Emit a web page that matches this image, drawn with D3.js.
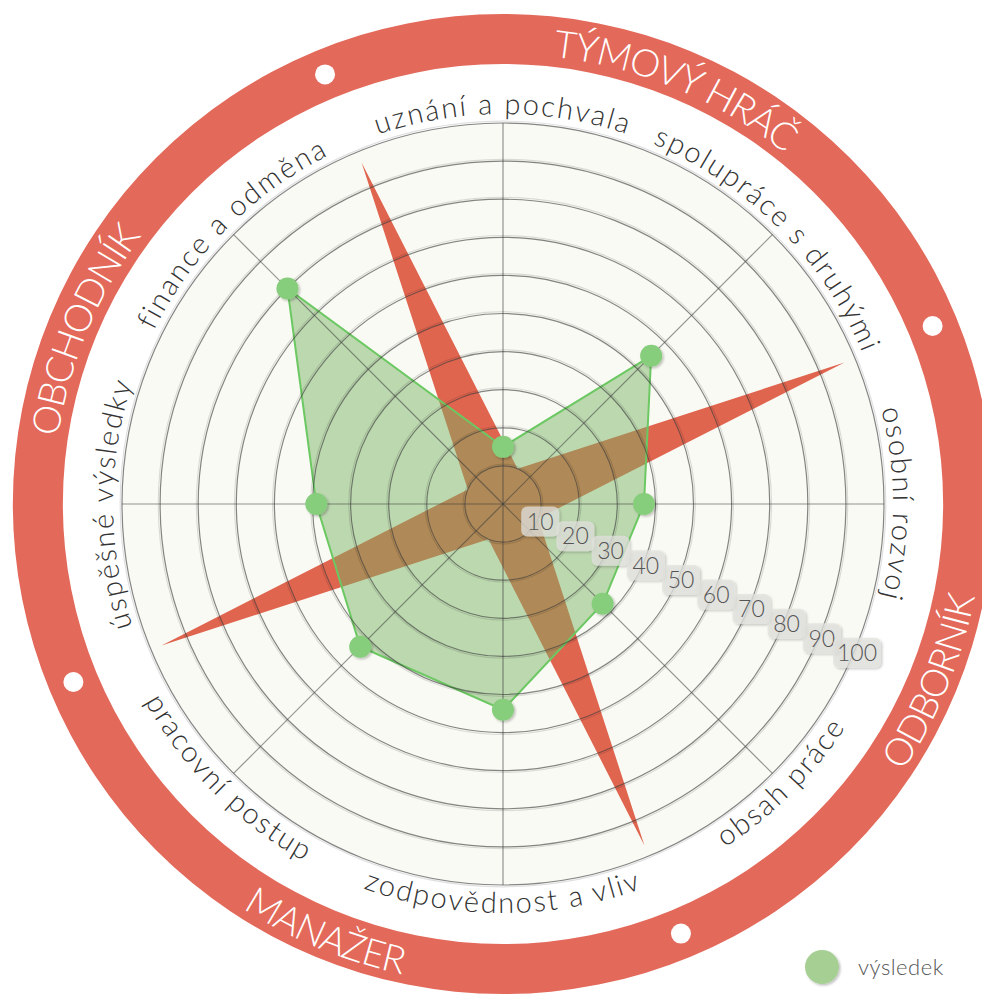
<!DOCTYPE html>
<html lang="cs">
<head>
  <meta charset="UTF-8">
  <title>Radar - výsledek</title>
  <script src="https://cdnjs.cloudflare.com/ajax/libs/d3/7.8.5/d3.min.js"></script>
  <style>
    html, body { margin: 0; padding: 0; background: #fff; }
    svg { display: block; }
    text { font-family: 'Lato', 'Open Sans', sans-serif; font-weight: 300; }
  </style>
</head>
<body>
<script>
  // chart values
  const categories = ["uznání a pochvala", "spolupráce s druhými", "osobní rozvoj", "obsah práce",
    "zodpovědnost a vliv", "pracovní postup", "úspěšné výsledky", "finance a odměna"];
  const results = [15, 55, 37, 37, 54, 53, 49, 80];

  // red star drawn behind the result
  const starAngles = [337.5, 22.5, 67.5, 112.5, 157.5, 202.5, 247.5, 292.5];
  const starValues = [97, 10, 97, 10, 97, 10, 97, 10];

  const ticks = [10, 20, 30, 40, 50, 60, 70, 80, 90, 100];

  const roles = ["TÝMOVÝ HRÁČ", "ODBORNÍK", "MANAŽER", "OBCHODNÍK"];
  const roleAngles = [22.5, 112.5, 202.5, 292.5];
  const dotAngles = [67.5, 157.5, 247.5, 337.5];

  const width = 982, height = 999;
  const cx = 503, cy = 504;
  const ringOuter = 490, ringInner = 440;

  const svg = d3.select("body").append("svg")
    .attr("width", width)
    .attr("height", height);

  const defs = svg.append("defs");
  const shadow = defs.append("filter").attr("id", "shadow")
    .attr("x", "-50%").attr("y", "-50%").attr("width", "200%").attr("height", "200%");
  shadow.append("feDropShadow")
    .attr("dx", 1.5).attr("dy", 1.5).attr("stdDeviation", 1.2)
    .attr("flood-color", "#000").attr("flood-opacity", 0.25);

  const r = d3.scaleLinear().domain([0, 100]).range([0, 381]);
  const angle = d3.scaleLinear().domain([0, categories.length]).range([0, 2 * Math.PI]);
  const rad = d => d * Math.PI / 180;

  const g = svg.append("g").attr("transform", `translate(${cx},${cy})`);

  // outer ring
  g.append("path")
    .attr("d", d3.arc()({ innerRadius: ringInner, outerRadius: ringOuter, startAngle: 0, endAngle: 2 * Math.PI }))
    .attr("fill", "#e3695a");

  // plot background
  g.append("circle").attr("r", r(100)).attr("fill", "#fafaf4");

  // red star
  const star = starAngles.map((a, i) => [rad(a), r(starValues[i])]);
  g.append("path")
    .attr("d", d3.lineRadial().curve(d3.curveLinearClosed)(star))
    .attr("fill", "#e0654f");

  // result area
  const pts = results.map((v, i) => [angle(i), r(v)]);
  g.append("path")
    .attr("d", d3.lineRadial().curve(d3.curveLinearClosed)(pts))
    .attr("fill", "rgba(118,178,98,0.47)")
    .attr("stroke", "#6cc862")
    .attr("stroke-width", 2);

  // grid circles with a faint shadow
  g.selectAll(".grid-shadow").data(ticks).join("circle")
    .attr("r", d => r(d) + 1.8)
    .attr("fill", "none")
    .attr("stroke", "rgba(0,0,0,0.12)")
    .attr("stroke-width", 1.2);
  g.selectAll(".grid").data(ticks).join("circle")
    .attr("r", d => r(d))
    .attr("fill", "none")
    .attr("stroke", "rgba(60,60,60,0.62)")
    .attr("stroke-width", 1.2);

  // spokes
  g.selectAll(".spoke").data(categories).join("line")
    .attr("x1", 0).attr("y1", 0)
    .attr("x2", (d, i) => r(100) * Math.sin(angle(i)))
    .attr("y2", (d, i) => -r(100) * Math.cos(angle(i)))
    .attr("stroke", "rgba(60,60,60,0.55)")
    .attr("stroke-width", 1.2);

  // markers
  g.selectAll(".pt").data(results).join("circle")
    .attr("cx", (d, i) => r(d) * Math.sin(angle(i)))
    .attr("cy", (d, i) => -r(d) * Math.cos(angle(i)))
    .attr("r", 11)
    .attr("fill", "#86cd7b")
    .attr("filter", "url(#shadow)");

  // arc path helper: clockwise (text on the top side) or counter-clockwise (bottom side)
  function arcPath(a, radius, clockwise) {
    const a0 = rad(a - 90), a1 = rad(a + 90);
    const p = t => [radius * Math.sin(t), -radius * Math.cos(t)];
    if (clockwise) {
      const s = p(a0), e = p(a1);
      return `M${s[0]},${s[1]} A${radius},${radius} 0 0 1 ${e[0]},${e[1]}`;
    }
    const s = p(a1), e = p(a0);
    return `M${s[0]},${s[1]} A${radius},${radius} 0 0 0 ${e[0]},${e[1]}`;
  }

  // category labels
  categories.forEach((c, i) => {
    const a = i * 360 / categories.length;
    const top = a <= 90 || a >= 270;
    defs.append("path").attr("id", "cat" + i)
      .attr("d", arcPath(a, top ? 390 : 409, top));
    g.append("text")
      .attr("font-size", 29)
      .attr("letter-spacing", 2)
      .attr("fill", "#333")
      .append("textPath")
      .attr("href", "#cat" + i)
      .attr("startOffset", "50%")
      .attr("text-anchor", "middle")
      .text(c);
  });

  // role labels on the ring
  roles.forEach((name, i) => {
    const a = roleAngles[i];
    const top = a <= 90 || a >= 270;
    defs.append("path").attr("id", "role" + i)
      .attr("d", arcPath(a, top ? 450 : 481, top));
    g.append("text")
      .attr("font-size", 38)
      .attr("letter-spacing", -1.2)
      .attr("fill", "#fff")
      .append("textPath")
      .attr("href", "#role" + i)
      .attr("startOffset", "50%")
      .attr("text-anchor", "middle")
      .text(name);
  });

  // white dots on the ring
  g.selectAll(".dot").data(dotAngles).join("circle")
    .attr("cx", d => 465 * Math.sin(rad(d)))
    .attr("cy", d => -465 * Math.cos(rad(d)))
    .attr("r", 10)
    .attr("fill", "#fff");

  // tick labels along 112.5 deg
  const tickAngle = rad(112.5);
  const tg = g.selectAll(".tick").data(ticks).join("g")
    .attr("transform", d => `translate(${r(d) * Math.sin(tickAngle) + 2},${-r(d) * Math.cos(tickAngle) + 3})`);
  tg.append("rect")
    .attr("x", d => d === 100 ? -24 : -19)
    .attr("y", -15)
    .attr("width", d => d === 100 ? 48 : 38)
    .attr("height", 30)
    .attr("rx", 6)
    .attr("fill", "rgba(226,226,222,0.75)")
    .attr("filter", "url(#shadow)");
  tg.append("text")
    .attr("text-anchor", "middle")
    .attr("dy", "0.36em")
    .attr("font-size", 23)
    .attr("fill", "#555")
    .text(d => d);

  // legend
  const lg = svg.append("g").attr("transform", "translate(822,967)");
  lg.append("circle").attr("r", 17).attr("fill", "#a6cf94").attr("filter", "url(#shadow)");
  lg.append("text")
    .attr("x", 36).attr("y", 8)
    .attr("font-size", 22)
    .attr("letter-spacing", 0.5)
    .attr("fill", "#555")
    .text("výsledek");
</script>
</body>
</html>
